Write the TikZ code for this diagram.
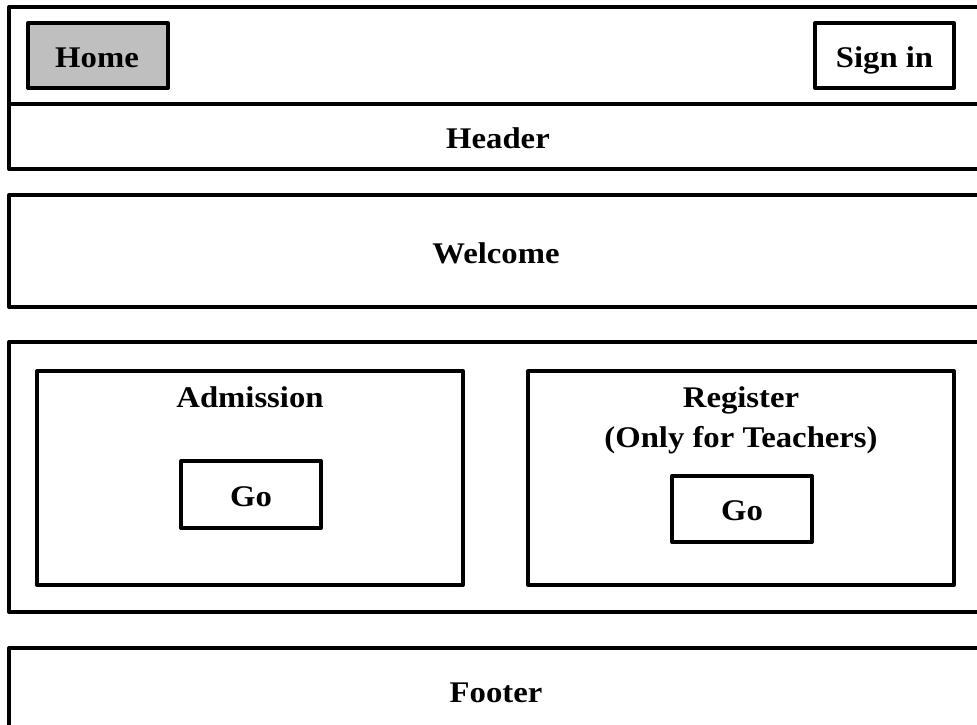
\documentclass[tikz,border=0pt]{standalone}
\usepackage{fontspec}
\setmainfont{Liberation Serif}[FakeStretch=1.09]
\begin{document}
\begin{tikzpicture}[x=1pt,y=-1pt,
  frame/.style={draw=black,line width=4pt,line join=round,inner sep=0pt},
  txt/.style={font=\fontsize{30}{41}\selectfont\bfseries,inner sep=0pt,anchor=base,align=center}]
\useasboundingbox (0,0) rectangle (977,725);
\begin{scope}
\clip (0,0) rectangle (977,725);
% outer strips
\draw[frame] (9,7) rectangle (990,104) coordinate (topbar);
\draw[frame] (9,104) rectangle (990,169) coordinate (headerbox);
\draw[frame] (9,195) rectangle (990,307) coordinate (welcomebox);
\draw[frame] (9,342) rectangle (990,612) coordinate (mainbox);
\draw[frame] (9,648) rectangle (990,770) coordinate (footerbox);
\end{scope}
% buttons
\node[frame,fill=black!25,minimum width=140pt,minimum height=65pt] (home) at (98,55.5) {};
\node[txt] (hometxt) at (97,67) {Home};
\node[frame,minimum width=139pt,minimum height=65pt] (signin) at (884.5,55.5) {};
\node[txt] (signintxt) at (884.5,67) {Sign in};
% strip labels
\node[txt] (headertxt) at (498,148) {Header};
\node[txt] (welcometxt) at (496,263) {Welcome};
\node[txt] (footertxt) at (496,702) {Footer};
% cards
\node[frame,minimum width=426pt,minimum height=214pt] (admission) at (250,478) {};
\node[txt] (admtxt) at (250,407) {Admission};
\node[frame,minimum width=140pt,minimum height=67pt] (go1) at (251,494.5) {};
\node[txt] (go1txt) at (251,506) {Go};
\node[frame,minimum width=426pt,minimum height=214pt] (register) at (741,478) {};
\node[txt] (regtxt) at (741,407) {Register};
\node[txt] (regtxt2) at (741,447) {(Only for Teachers)};
\node[frame,minimum width=140pt,minimum height=66pt] (go2) at (742,509) {};
\node[txt] (go2txt) at (742,520) {Go};
\end{tikzpicture}
\end{document}
